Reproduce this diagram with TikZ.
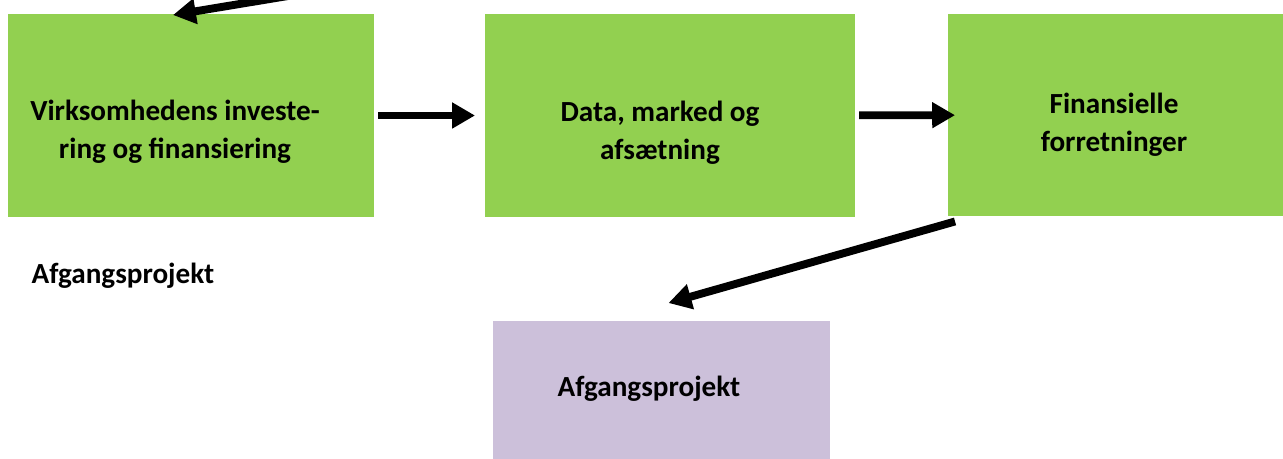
\documentclass[tikz,border=0pt]{standalone}
\usepackage{fontspec}
\setmainfont{Carlito}
\usetikzlibrary{arrows.meta}
\definecolor{boxgreen}{HTML}{92D050}
\definecolor{boxlilac}{HTML}{CCC0DA}

\begin{document}
\begin{tikzpicture}[x=0.02cm,y=-0.02cm,
    -{Triangle[length=13pt,width=14pt]},line width=4.5pt,
    box/.style={fill=boxgreen,inner sep=0pt,outer sep=0pt,minimum height=4.06cm},
    lbl/.style={font=\bfseries\fontsize{16.6pt}{21.5pt}\selectfont,align=center}]
      \useasboundingbox (0,0) rectangle (1283,459);

      % boxes
      \node[box,minimum width=7.32cm] (b1) at (191,115.5)  {};
      \node[box,minimum width=7.4cm]  (b2) at (670,115.5)  {};
      \node[box,minimum width=6.7cm]  (b3) at (1115.5,115) {};
      \node[box,fill=boxlilac,minimum width=6.74cm,minimum height=2.76cm] (b4) at (661.5,390) {};

      % texts
      \node[lbl] (t1) at (175,132)  {Virksomhedens investe-\\ring og finansiering};
      \node[lbl] (t2) at (660,133)  {Data, marked og\\afsætning};
      \node[lbl] (t3) at (1114,125) {Finansielle\\forretninger};
      \node[lbl] (t4) at (649,389)  {Afgangsprojekt};
      \node[lbl] (t5) at (123,276)  {Afgangsprojekt};

      \coordinate (src) at (288,-4);

      \path
        (src) edge ([shift={(-18,1)}]b1.north)
        (b1)  edge [shorten <=2.3pt, shorten >=5.7pt] (b2)
        (b2)  edge [shorten <=2.3pt, shorten >=-4pt] (b3)
        ([shift={(7,5)}]b3.south west) edge ([shift={(7,-18)}]b4.north);
\end{tikzpicture}
\end{document}
